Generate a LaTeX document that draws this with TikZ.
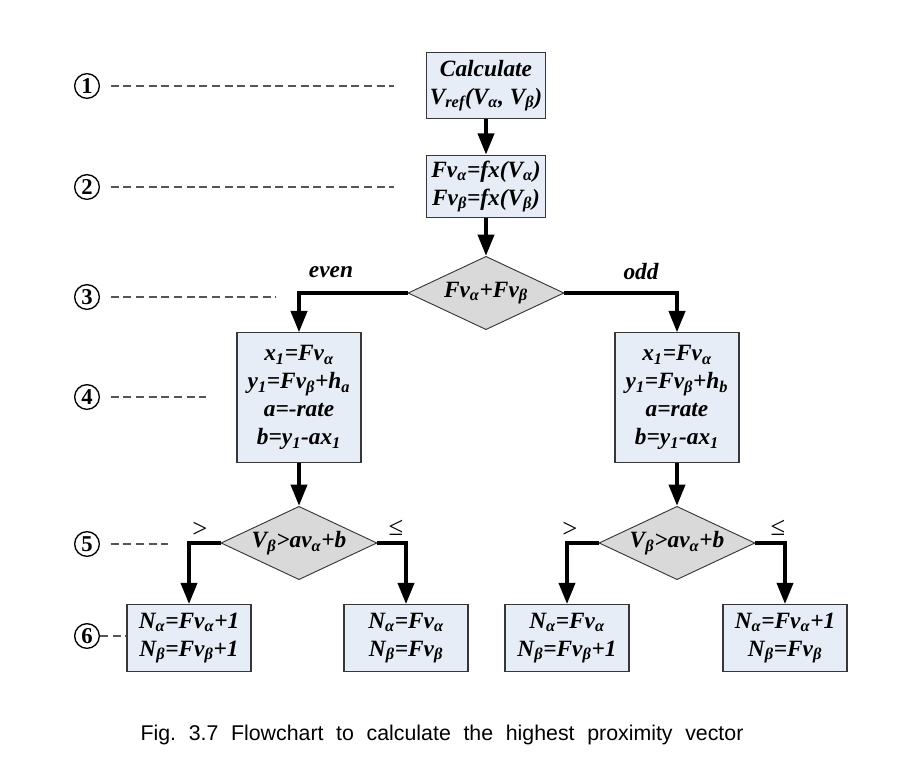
\documentclass[tikz,border=0pt]{standalone}
\usepackage{fontspec}
\setmainfont{Liberation Serif}
\newfontfamily\capfont{Liberation Sans}
\usetikzlibrary{arrows.meta,shapes.geometric}
\definecolor{boxfill}{RGB}{231,237,247}
\definecolor{diafill}{RGB}{217,217,217}
\definecolor{boxline}{RGB}{55,55,55}
\definecolor{dashcol}{RGB}{85,85,85}
\newcommand{\sbs}[1]{\textsubscript{#1}}
\begin{document}
\begin{tikzpicture}[x=0.75pt,y=-0.75pt,
  box/.style={draw=boxline, line width=0.8pt, fill=boxfill, inner sep=0pt, align=center,
    font=\fontsize{17.5}{21}\selectfont\bfseries\itshape},
  dia/.style={diamond, draw=boxline, line width=0.7pt, fill=diafill, inner sep=0pt,
    minimum width=117pt, minimum height=55pt},
  diatext/.style={font=\fontsize{17.5}{21}\selectfont\bfseries\itshape, inner sep=0pt},
  flow/.style={line width=3pt, -{Triangle[width=12pt,length=16pt]}},
  circnum/.style={circle, draw=black, line width=1pt, minimum size=18.5pt, inner sep=0pt,
    font=\fontsize{17}{17}\selectfont\bfseries},
  dsh/.style={draw=dashcol, line width=0.9pt, dash pattern=on 6pt off 3.5pt},
  brlabel/.style={font=\fontsize{17.5}{21}\selectfont\bfseries\itshape, inner sep=0pt},
  cmplabel/.style={font=\fontsize{20}{20}\selectfont, inner sep=0pt}]
\useasboundingbox[fill=white] (0,0) rectangle (918,778);

% boxes
\node[box, minimum width=89pt, minimum height=49pt] (b1) at (486,85.5)
  {Calculate\\V\sbs{ref}(V\sbs{α}, V\sbs{β})};
\node[box, minimum width=89pt, minimum height=47pt] (b2) at (486,186.5)
  {Fv\sbs{α}=fx(V\sbs{α})\\Fv\sbs{β}=fx(V\sbs{β})};
\node[dia] (d3) at (486,293) {};
\node[diatext] (t3) at (d3) {Fv\sbs{α}+Fv\sbs{β}};

\node[box, minimum width=93pt, minimum height=97pt] (b4l) at (299,397.5)
  {x\sbs{1}=Fv\sbs{α}\\y\sbs{1}=Fv\sbs{β}+h\sbs{a}\\a=-rate\\b=y\sbs{1}-ax\sbs{1}};
\node[box, minimum width=93pt, minimum height=97pt] (b4r) at (677,397.5)
  {x\sbs{1}=Fv\sbs{α}\\y\sbs{1}=Fv\sbs{β}+h\sbs{b}\\a=rate\\b=y\sbs{1}-ax\sbs{1}};

\node[dia] (d5l) at (299,543) {};
\node[diatext] (t5l) at (d5l) {V\sbs{β}>av\sbs{α}+b};
\node[dia] (d5r) at (677,543) {};
\node[diatext] (t5r) at (d5r) {V\sbs{β}>av\sbs{α}+b};

\node[box, minimum width=93pt, minimum height=50pt] (b6a) at (189,638)
  {N\sbs{α}=Fv\sbs{α}+1\\N\sbs{β}=Fv\sbs{β}+1};
\node[box, minimum width=93pt, minimum height=50pt] (b6b) at (406,638)
  {N\sbs{α}=Fv\sbs{α}\\N\sbs{β}=Fv\sbs{β}};
\node[box, minimum width=93pt, minimum height=50pt] (b6c) at (567,638)
  {N\sbs{α}=Fv\sbs{α}\\N\sbs{β}=Fv\sbs{β}+1};
\node[box, minimum width=93pt, minimum height=50pt] (b6d) at (785,638)
  {N\sbs{α}=Fv\sbs{α}+1\\N\sbs{β}=Fv\sbs{β}};

% connectors
\draw[flow] (b1) -- (b2);
\draw[flow] (b2) -- (d3);
\draw[flow] (d3.west) -| (b4l.north);
\draw[flow] (d3.east) -| (b4r.north);
\draw[flow] (b4l) -- (d5l);
\draw[flow] (b4r) -- (d5r);
\draw[flow] (d5l.west) -| (b6a.north);
\draw[flow] (d5l.east) -| (b6b.north);
\draw[flow] (d5r.west) -| (b6c.north);
\draw[flow] (d5r.east) -| (b6d.north);

% branch labels
\node[brlabel] (even) at (331,272) {even};
\node[brlabel] (odd) at (641,272) {odd};
\node[cmplabel] (gl) at (200,530) {>};
\node[cmplabel] (le) at (396,528) {≤};
\node[cmplabel] (gr) at (570,530) {>};
\node[cmplabel] (ri) at (778,528) {≤};

% step markers
\node[circnum] (n1) at (87,86) {1};
\node[circnum] (n2) at (87,187) {2};
\node[circnum] (n3) at (87,297) {3};
\node[circnum] (n4) at (87,397) {4};
\node[circnum] (n5) at (87,544) {5};
\node[circnum] (n6) at (87,636) {6};
\coordinate (e1) at (394,86);
\coordinate (e2) at (394,187);
\coordinate (e3) at (276,297);
\coordinate (e4) at (206,397);
\coordinate (e5) at (168,544);
\draw[dsh] ([xshift=8pt]n1.east) -- (e1);
\draw[dsh] ([xshift=8pt]n2.east) -- (e2);
\draw[dsh] ([xshift=8pt]n3.east) -- (e3);
\draw[dsh] ([xshift=8pt]n4.east) -- (e4);
\draw[dsh] ([xshift=8pt]n5.east) -- (e5);
\draw[dsh] (n6.east) -- (b6a.west |- n6.east);

% caption
\node[font=\capfont\fontsize{16}{16}\selectfont, inner sep=0pt] (cap) at (442,735)
  {\spaceskip=9.5pt Fig.\ 3.7 Flowchart to calculate the highest proximity vector};
\end{tikzpicture}
\end{document}
